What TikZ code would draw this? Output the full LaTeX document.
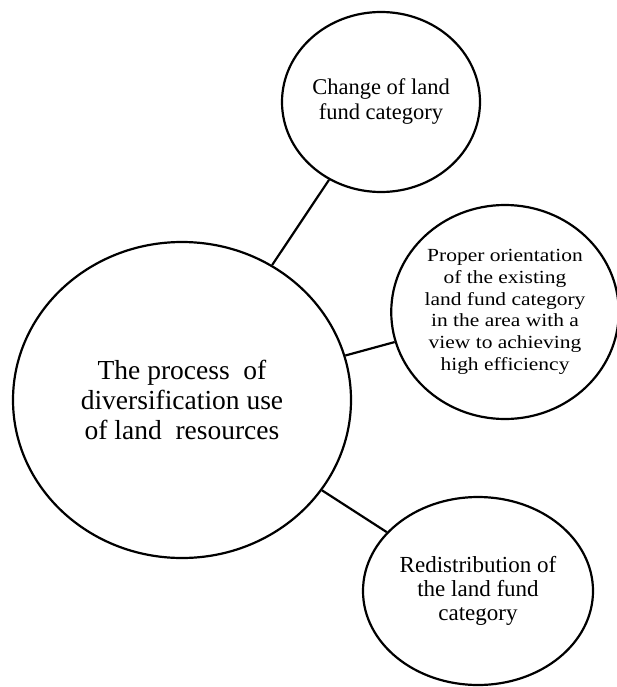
\documentclass[tikz,border=0pt]{standalone}
\usepackage{fontspec}
\setmainfont{Liberation Serif}
\newfontfamily\widefont[FakeStretch=1.16]{Liberation Serif}
\usetikzlibrary{shapes.geometric}

\begin{document}
\begin{tikzpicture}[x=1pt, y=-1pt,
  blob/.style={draw, ellipse, line width=2.2pt, inner sep=0pt, align=center},
  link/.style={line width=2.2pt}]
\useasboundingbox (0,0) rectangle (617,687);
\node[blob, minimum width=338pt, minimum height=316pt, font=\fontsize{27.5}{30}\selectfont] (process) at (182,400) {The process\ \ of\\diversification use\\of land\ \ resources};
\node[blob, minimum width=198pt, minimum height=180pt, font=\fontsize{22.5}{25}\selectfont] (change) at (381,102) {Change of land\\fund category};
\node[blob, minimum width=220pt, minimum height=214pt, font=\widefont\fontsize{18.5}{21.7}\selectfont] (orient) at (505,312) {Proper orientation\\of the existing\\land fund category\\in the area with a\\view to achieving\\high efficiency};
\node[blob, minimum width=230pt, minimum height=188pt, font=\fontsize{23}{24}\selectfont] (redist) at (478,591) {Redistribution of\\the land fund\\category};
\draw[link] (process) -- (change);
\draw[link] (process) -- (orient);
\draw[link] (process) -- (redist);
\end{tikzpicture}
\end{document}
